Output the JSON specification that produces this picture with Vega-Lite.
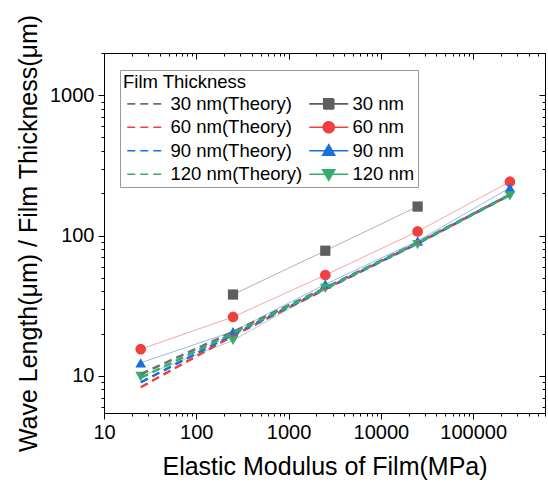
{
  "$schema": "https://vega.github.io/schema/vega-lite/v6.json",
  "width": 441,
  "height": 360,
  "autosize": {"type": "none"},
  "padding": {"left": 104, "top": 53, "right": 3, "bottom": 73},
  "background": "white",
  "config": {
    "font": "Liberation Sans",
    "view": {"stroke": null},
    "axis": {"domainColor": "black", "tickColor": "black", "labelColor": "black", "titleColor": "black", "grid": false, "labelFont": "Liberation Sans", "titleFont": "Liberation Sans", "titleFontWeight": "normal", "labelOverlap": false, "labelFlush": false}
  },
  "data": {
    "values": [
      {"E": 25, "ratio": 10.3, "series": "30 nm(Theory)", "kind": "theory"},
      {"E": 250, "ratio": 20.6, "series": "30 nm(Theory)", "kind": "theory"},
      {"E": 2500, "ratio": 42.5, "series": "30 nm(Theory)", "kind": "theory"},
      {"E": 25000, "ratio": 89, "series": "30 nm(Theory)", "kind": "theory"},
      {"E": 250000, "ratio": 196, "series": "30 nm(Theory)", "kind": "theory"},
      {"E": 25, "ratio": 8.3, "series": "60 nm(Theory)", "kind": "theory"},
      {"E": 250, "ratio": 19.3, "series": "60 nm(Theory)", "kind": "theory"},
      {"E": 2500, "ratio": 41.5, "series": "60 nm(Theory)", "kind": "theory"},
      {"E": 25000, "ratio": 88, "series": "60 nm(Theory)", "kind": "theory"},
      {"E": 250000, "ratio": 195, "series": "60 nm(Theory)", "kind": "theory"},
      {"E": 25, "ratio": 9.0, "series": "90 nm(Theory)", "kind": "theory"},
      {"E": 250, "ratio": 19.7, "series": "90 nm(Theory)", "kind": "theory"},
      {"E": 2500, "ratio": 41.8, "series": "90 nm(Theory)", "kind": "theory"},
      {"E": 25000, "ratio": 88, "series": "90 nm(Theory)", "kind": "theory"},
      {"E": 250000, "ratio": 195, "series": "90 nm(Theory)", "kind": "theory"},
      {"E": 25, "ratio": 9.7, "series": "120 nm(Theory)", "kind": "theory"},
      {"E": 250, "ratio": 20.1, "series": "120 nm(Theory)", "kind": "theory"},
      {"E": 2500, "ratio": 42, "series": "120 nm(Theory)", "kind": "theory"},
      {"E": 25000, "ratio": 88.5, "series": "120 nm(Theory)", "kind": "theory"},
      {"E": 250000, "ratio": 195, "series": "120 nm(Theory)", "kind": "theory"},
      {"E": 250, "ratio": 38, "series": "30 nm", "kind": "exp"},
      {"E": 2500, "ratio": 78, "series": "30 nm", "kind": "exp"},
      {"E": 25000, "ratio": 161, "series": "30 nm", "kind": "exp"},
      {"E": 25, "ratio": 15.5, "series": "60 nm", "kind": "exp"},
      {"E": 250, "ratio": 26.3, "series": "60 nm", "kind": "exp"},
      {"E": 2500, "ratio": 52.3, "series": "60 nm", "kind": "exp"},
      {"E": 25000, "ratio": 107, "series": "60 nm", "kind": "exp"},
      {"E": 250000, "ratio": 242, "series": "60 nm", "kind": "exp"},
      {"E": 25, "ratio": 12.4, "series": "90 nm", "kind": "exp"},
      {"E": 250, "ratio": 20.7, "series": "90 nm", "kind": "exp"},
      {"E": 2500, "ratio": 45, "series": "90 nm", "kind": "exp"},
      {"E": 25000, "ratio": 91.5, "series": "90 nm", "kind": "exp"},
      {"E": 250000, "ratio": 219, "series": "90 nm", "kind": "exp"},
      {"E": 25, "ratio": 9.9, "series": "120 nm", "kind": "exp"},
      {"E": 250, "ratio": 17.9, "series": "120 nm", "kind": "exp"},
      {"E": 2500, "ratio": 42, "series": "120 nm", "kind": "exp"},
      {"E": 25000, "ratio": 86.2, "series": "120 nm", "kind": "exp"},
      {"E": 250000, "ratio": 192, "series": "120 nm", "kind": "exp"}
    ]
  },
  "layer": [
    {
      "transform": [{"filter": "datum.kind == 'exp'"}],
      "mark": {"type": "line", "strokeWidth": 1, "opacity": 0.5},
      "encoding": {
        "x": {"field": "E", "type": "quantitative",
          "scale": {"type": "log", "domain": [10, 600000], "nice": false, "zero": false},
          "axis": {"orient": "bottom", "title": "Elastic Modulus of Film(MPa)", "titleFontSize": 25, "titlePadding": 12,
            "values": [10,20,30,40,50,60,70,80,90,100,200,300,400,500,600,700,800,900,1000,2000,3000,4000,5000,6000,7000,8000,9000,10000,20000,30000,40000,50000,60000,70000,80000,90000,100000,200000,300000,400000,500000,600000],
            "labelExpr": "abs(log(datum.value)/LN10 - round(log(datum.value)/LN10)) < 0.001 ? format(datum.value, 'd') : ''",
            "labelFontSize": 20, "labelPadding": 3,
            "tickSize": {"condition": {"test": "abs(log(datum.value)/LN10 - round(log(datum.value)/LN10)) < 0.001", "value": 6}, "value": 3}}},
        "y": {"field": "ratio", "type": "quantitative",
          "scale": {"type": "log", "domain": [5.44, 2000], "nice": false, "zero": false},
          "axis": {"orient": "left", "title": "Wave Length(μm) / Film Thickness(μm)", "titleFontSize": 25, "titlePadding": 8,
            "values": [6,7,8,9,10,20,30,40,50,60,70,80,90,100,200,300,400,500,600,700,800,900,1000,2000],
            "labelExpr": "abs(log(datum.value)/LN10 - round(log(datum.value)/LN10)) < 0.001 ? format(datum.value, 'd') : ''",
            "labelFontSize": 20, "labelPadding": 4,
            "tickSize": {"condition": {"test": "abs(log(datum.value)/LN10 - round(log(datum.value)/LN10)) < 0.001", "value": 6}, "value": 3}}},
        "color": {"field": "series", "type": "nominal",
          "scale": {"domain": ["30 nm(Theory)", "60 nm(Theory)", "90 nm(Theory)", "120 nm(Theory)", "30 nm", "60 nm", "90 nm", "120 nm"],
            "range": ["#707070", "#f14040", "#1a6fdf", "#37ad6b", "#5e5e5e", "#f14040", "#1a6fdf", "#37ad6b"]},
          "legend": {"orient": "none", "legendX": 16, "legendY": 17, "title": "Film Thickness", "columns": 2, "columnPadding": 2, "rowPadding": 4.5,
            "titleFontSize": 18.5, "titleFontWeight": "normal", "titleColor": "black", "titleFont": "Liberation Sans", "titlePadding": 3,
            "labelFontSize": 18.5, "labelColor": "black", "labelFont": "Liberation Sans", "labelOffset": 29,
            "symbolSize": 100, "symbolOpacity": 1, "symbolStrokeWidth": 1.6, "padding": 3, "strokeColor": "#9a9a9a", "fillColor": "white"}
        },
        "strokeDash": {"field": "series", "type": "nominal",
          "scale": {"domain": ["30 nm(Theory)", "60 nm(Theory)", "90 nm(Theory)", "120 nm(Theory)", "30 nm", "60 nm", "90 nm", "120 nm"],
            "range": [[8,5],[8,5],[8,5],[8,5],[1,0],[1,0],[1,0],[1,0]]}}
      }
    },
    {
      "transform": [{"filter": "datum.series == '30 nm'"}],
      "mark": {"type": "point", "filled": true, "opacity": 1, "size": 105, "shape": "square"},
      "encoding": {
        "x": {"field": "E", "type": "quantitative",
          "axis": {"orient": "top", "title": null, "labels": false,
            "values": [10,20,30,40,50,60,70,80,90,100,200,300,400,500,600,700,800,900,1000,2000,3000,4000,5000,6000,7000,8000,9000,10000,20000,30000,40000,50000,60000,70000,80000,90000,100000,200000,300000,400000,500000,600000],
            "tickSize": {"condition": {"test": "abs(log(datum.value)/LN10 - round(log(datum.value)/LN10)) < 0.001", "value": -6}, "value": -3}}},
        "y": {"field": "ratio", "type": "quantitative",
          "axis": {"orient": "right", "title": null, "labels": false,
            "values": [6,7,8,9,10,20,30,40,50,60,70,80,90,100,200,300,400,500,600,700,800,900,1000,2000],
            "tickSize": {"condition": {"test": "abs(log(datum.value)/LN10 - round(log(datum.value)/LN10)) < 0.001", "value": -6}, "value": -3}}},
        "color": {"field": "series", "type": "nominal"}
      }
    },
    {
      "transform": [{"filter": "datum.series == '60 nm'"}],
      "mark": {"type": "point", "filled": true, "opacity": 1, "size": 115, "shape": "circle"},
      "encoding": {
        "x": {"field": "E", "type": "quantitative", "axis": null},
        "y": {"field": "ratio", "type": "quantitative", "axis": null},
        "color": {"field": "series", "type": "nominal"}
      }
    },
    {
      "transform": [{"filter": "datum.series == '90 nm'"}],
      "mark": {"type": "point", "filled": true, "opacity": 1, "size": 115, "shape": "triangle-up"},
      "encoding": {
        "x": {"field": "E", "type": "quantitative", "axis": null},
        "y": {"field": "ratio", "type": "quantitative", "axis": null},
        "color": {"field": "series", "type": "nominal"}
      }
    },
    {
      "transform": [{"filter": "datum.series == '120 nm'"}],
      "mark": {"type": "point", "filled": true, "opacity": 1, "size": 115, "shape": "triangle-down"},
      "encoding": {
        "x": {"field": "E", "type": "quantitative", "axis": null},
        "y": {"field": "ratio", "type": "quantitative", "axis": null},
        "color": {"field": "series", "type": "nominal"}
      }
    },
    {
      "transform": [{"filter": "datum.kind == 'theory'"}],
      "mark": {"type": "line", "strokeWidth": 2.5},
      "encoding": {
        "x": {"field": "E", "type": "quantitative", "axis": null},
        "y": {"field": "ratio", "type": "quantitative", "axis": null},
        "color": {"field": "series", "type": "nominal"},
        "strokeDash": {"field": "series", "type": "nominal"}
      }
    },
    {
      "mark": {"type": "point", "filled": true, "opacity": 0, "size": 10},
      "encoding": {
        "x": {"field": "E", "type": "quantitative", "axis": null},
        "y": {"field": "ratio", "type": "quantitative", "axis": null},
        "color": {"field": "series", "type": "nominal"},
        "shape": {"field": "series", "type": "nominal",
          "scale": {"domain": ["30 nm(Theory)", "60 nm(Theory)", "90 nm(Theory)", "120 nm(Theory)", "30 nm", "60 nm", "90 nm", "120 nm"],
            "range": ["M-1,0H6.2", "M-1,0H6.2", "M-1,0H6.2", "M-1,0H6.2", "M-1,0H6.8M1.9,-1H3.9V1H1.9Z", "M-1,0H6.8M1.8,0A1.1,1.1,0,1,1,4,0A1.1,1.1,0,1,1,1.8,0Z", "M-1,0H6.8M2.9,-1.2L4.1,0.9L1.7,0.9Z", "M-1,0H6.8M2.9,1.2L4.1,-0.9L1.7,-0.9Z"]}}
      }
    }
  ]
}
